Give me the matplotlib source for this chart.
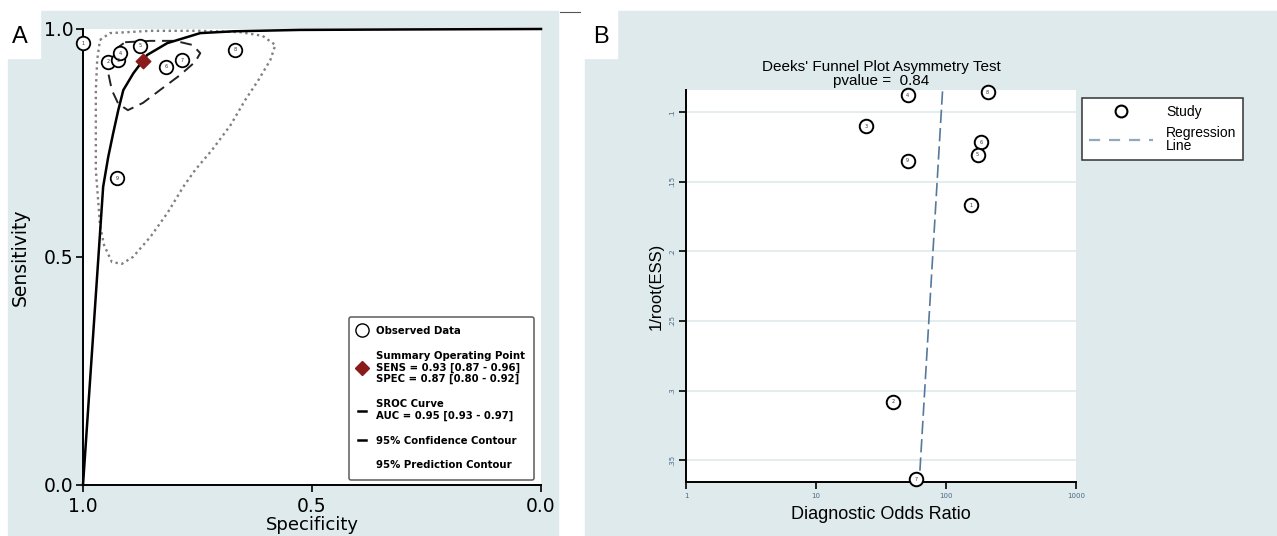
import matplotlib
matplotlib.use('Agg')
from matplotlib import pyplot as plt
from matplotlib.patches import Rectangle
from matplotlib.lines import Line2D

# ---------------- Panel A : SROC ----------------
study_ids = ['1', '2', '3', '4', '5', '6', '7', '8', '9']
study_spec = [1.0, 0.945, 0.924, 0.919, 0.876, 0.819, 0.784, 0.668, 0.926]
study_sens = [0.969, 0.928, 0.932, 0.947, 0.963, 0.917, 0.932, 0.954, 0.673]

summary_spec = [0.87]
summary_sens = [0.93]

sroc_spec = [1.0, 0.956, 0.945, 0.934, 0.923, 0.912, 0.89, 0.86, 0.816, 0.744,
             0.67, 0.525, 0.3, 0.0]
sroc_sens = [0.0, 0.654, 0.719, 0.772, 0.822, 0.866, 0.903, 0.943, 0.969, 0.991,
             0.995, 0.998, 0.999, 1.0]

conf_spec = [0.908, 0.853, 0.799, 0.761, 0.744, 0.755, 0.788, 0.832, 0.869,
             0.902, 0.923, 0.937, 0.945, 0.941, 0.926, 0.908]
conf_sens = [0.971, 0.974, 0.974, 0.965, 0.947, 0.928, 0.899, 0.866, 0.838,
             0.822, 0.836, 0.866, 0.904, 0.932, 0.958, 0.971]

pred_spec = [0.963, 0.941, 0.904, 0.853, 0.744, 0.656, 0.608, 0.580, 0.591,
             0.617, 0.646, 0.678, 0.718, 0.755, 0.781, 0.816, 0.853, 0.891,
             0.915, 0.937, 0.954, 0.963, 0.967, 0.972, 0.972, 0.972, 0.969, 0.963]
pred_sens = [0.976, 0.991, 0.993, 0.996, 0.996, 0.993, 0.985, 0.965, 0.932,
             0.888, 0.844, 0.789, 0.735, 0.691, 0.654, 0.596, 0.544, 0.500,
             0.485, 0.489, 0.526, 0.570, 0.625, 0.691, 0.779, 0.866, 0.932, 0.976]

a_ticks = [0.0, 0.5, 1.0]
a_ticklabels = ['0.0', '0.5', '1.0']

# ---------------- Panel B : Deeks funnel ----------------
deeks_ids = ['4', '8', '3', '6', '5', '9', '1', '2', '7']
deeks_dor = [50.6, 209, 24.4, 185, 175, 50.6, 155, 39.4, 59.3]
deeks_invroot = [0.0879, 0.0857, 0.110, 0.1214, 0.1307, 0.135, 0.167, 0.3079, 0.3636]

reg_dor = [94, 62.6]
reg_invroot = [0.085, 0.362]

b_xticks = [1, 10, 100, 1000]
b_xticklabels = ['1', '10', '100', '1000']
b_yticks = [0.1, 0.15, 0.2, 0.25, 0.3, 0.35]
b_yticklabels = ['.1', '.15', '.2', '.25', '.3', '.35']

W, H = 1277, 536
bg = '#deeaeb'

fig = plt.figure(figsize=(W / 100, H / 100), dpi=100)
fig.patch.set_facecolor('white')


def fx(px):
    return px / W


def fy(py):
    return 1 - py / H


# panel backgrounds and white letter boxes (drawn under the axes)
fig.patches.append(Rectangle((fx(8), 0), fx(558 - 8), (536 - 11) / H,
                             transform=fig.transFigure, color=bg, zorder=-2))
fig.patches.append(Rectangle((fx(585), 0), fx(1277 - 585), (536 - 11) / H,
                             transform=fig.transFigure, color=bg, zorder=-2))
fig.patches.append(Rectangle((0, fy(58)), fx(40), 58 / H,
                             transform=fig.transFigure, color='white', zorder=-1))
fig.patches.append(Rectangle((fx(578), fy(58)), fx(39), 58 / H,
                             transform=fig.transFigure, color='white', zorder=-1))
fig.text(fx(20), fy(37), 'A', fontsize=17, ha='center', va='center', family='Liberation Sans')
fig.text(fx(601), fy(37), 'B', fontsize=17, ha='center', va='center', family='Liberation Sans')
fig.add_artist(Line2D([fx(560), fx(580)], [fy(12), fy(12)], color='#555555', lw=0.8))

# ---------- Panel A ----------
axA = fig.add_axes([fx(83), fy(485), fx(541 - 83), (485 - 29) / H])
axA.set_facecolor('white')
axA.plot(pred_spec, pred_sens, color='#808080', linestyle=(0, (1, 1.5)), lw=1.7, zorder=2)
axA.plot(conf_spec, conf_sens, color='#222222', linestyle=(0, (6, 3.5)), lw=1.4, zorder=3)
axA.plot(sroc_spec, sroc_sens, color='black', lw=1.8, zorder=4, clip_on=False)
axA.scatter(study_spec, study_sens, s=95, facecolors='white', edgecolors='black',
            linewidths=1.3, zorder=5, clip_on=False)
for sid, sx, sy in zip(study_ids, study_spec, study_sens):
    axA.text(sx, sy, sid, fontsize=3.5, ha='center', va='center', zorder=6, color='#333333')
axA.scatter(summary_spec, summary_sens, s=55, marker='D', color='#8b1a1a', zorder=6)

axA.set_xlim(1.0, 0.0)
axA.set_ylim(0.0, 1.0)
axA.set_xticks(a_ticks)
axA.set_xticklabels(a_ticklabels)
axA.set_yticks(a_ticks)
axA.set_yticklabels(a_ticklabels)
axA.tick_params(axis='both', direction='out', length=5, width=1.2, labelsize=13.5, pad=2)
axA.tick_params(axis='x', pad=4)
for s in ['top', 'right']:
    axA.spines[s].set_visible(False)
for s in ['left', 'bottom']:
    axA.spines[s].set_linewidth(1.4)
axA.set_xlabel('Specificity', fontsize=13, labelpad=0)
axA.set_ylabel('Sensitivity', fontsize=13.5, labelpad=10)

legA_handles = [
    Line2D([], [], marker='o', markersize=9.5, markerfacecolor='white', markeredgecolor='black',
           linestyle='none'),
    Line2D([], [], marker='D', markersize=7, color='#8b1a1a', linestyle='none'),
    Line2D([], [], color='black', lw=1.8),
    Line2D([], [], color='black', lw=1.8),
    Line2D([], [], color='white', lw=1.8),
]
legA_labels = [
    'Observed Data',
    'Summary Operating Point\nSENS = 0.93 [0.87 - 0.96]\nSPEC = 0.87 [0.80 - 0.92]',
    'SROC Curve\nAUC = 0.95 [0.93 - 0.97]',
    '95% Confidence Contour',
    '95% Prediction Contour',
]
legA = axA.legend(legA_handles, legA_labels, loc='lower right', bbox_to_anchor=(0.985, 0.012),
                  handlelength=0.8, handletextpad=1.0, labelspacing=1.45,
                  frameon=True, fancybox=True, edgecolor='#333333', borderpad=0.9,
                  borderaxespad=0, prop={'size': 7.3, 'weight': 'bold'})
legA.get_frame().set_linewidth(1.1)

# ---------- Panel B ----------
axB = fig.add_axes([fx(686), fy(482), fx(1076 - 686), (482 - 90) / H])
axB.set_facecolor('white')
axB.set_xscale('log')
axB.set_xlim(1, 1000)
axB.set_ylim(0.3657, 0.084)
for yt in b_yticks:
    axB.axhline(yt, color=bg, lw=1.2, zorder=0)
axB.plot(reg_dor, reg_invroot, color='#55799a', linestyle=(0, (8, 3)), lw=1.2, zorder=2)
axB.scatter(deeks_dor, deeks_invroot, s=95, facecolors='white', edgecolors='black',
            linewidths=1.4, zorder=5, clip_on=False)
for sid, sx, sy in zip(deeks_ids, deeks_dor, deeks_invroot):
    axB.text(sx, sy, sid, fontsize=3.5, ha='center', va='center', zorder=6, color='#333333')

axB.set_xticks(b_xticks)
axB.set_xticklabels(b_xticklabels)
axB.minorticks_off()
axB.set_yticks(b_yticks)
axB.set_yticklabels(b_yticklabels, rotation=90, va='center')
axB.tick_params(axis='both', direction='out', length=5, width=1.2, labelsize=5,
                labelcolor='#4a6a8a', pad=3)
for s in ['top', 'right']:
    axB.spines[s].set_visible(False)
for s in ['left', 'bottom']:
    axB.spines[s].set_linewidth(1.4)
axB.set_xlabel('Diagnostic Odds Ratio', fontsize=13, family='Liberation Sans', labelpad=5)
axB.set_ylabel('1/root(ESS)', fontsize=12, family='Liberation Sans', labelpad=4)
fig.text(fx(881), fy(74), "Deeks' Funnel Plot Asymmetry Test\npvalue =  0.84",
         fontsize=11, ha='center', va='center', family='Liberation Sans', linespacing=0.95)

legB_handles = [
    Line2D([], [], marker='o', markersize=8.5, markerfacecolor='white', markeredgecolor='black',
           markeredgewidth=1.5, linestyle='none'),
    Line2D([], [], color='#8fa9c0', linestyle=(0, (5, 4)), lw=1.6),
]
legB = fig.legend(legB_handles, ['Study', 'Regression\nLine'], loc='upper left',
                  bbox_to_anchor=(fx(1082), fy(98)), handlelength=4.6,
                  handletextpad=0.95, labelspacing=0.5, frameon=True, fancybox=False,
                  edgecolor='#333333', framealpha=1, borderaxespad=0, borderpad=0.5,
                  prop={'family': 'Liberation Sans', 'size': 10})
legB.get_frame().set_linewidth(1.1)
for t in legB.get_texts():
    t.set_linespacing(0.95)

fig.savefig('out.png', dpi=100, facecolor='white')
